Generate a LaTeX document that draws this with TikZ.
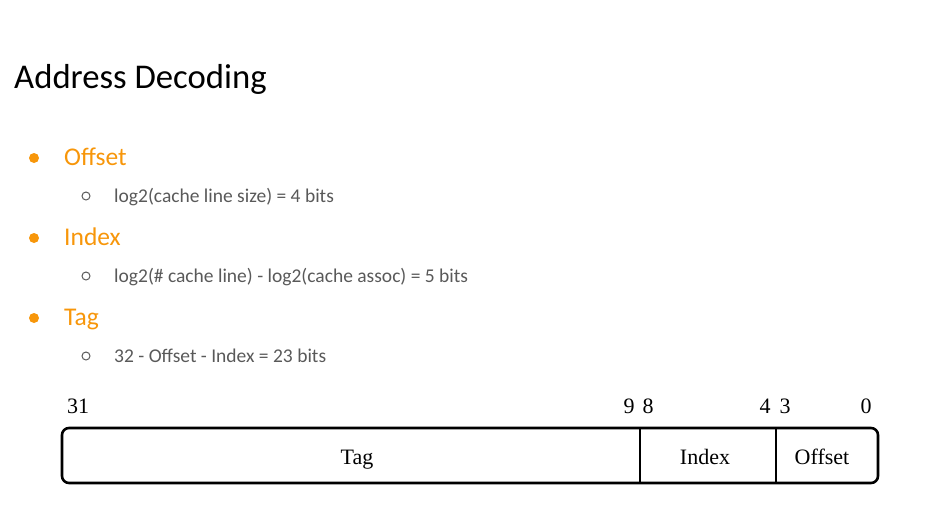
\documentclass[tikz,border=0pt]{standalone}
\usepackage{fontspec}
\setmainfont{Carlito}
\newfontfamily\regfont{Liberation Serif}
\definecolor{accent}{RGB}{247,150,10}
\definecolor{bodygray}{RGB}{89,89,89}
\begin{document}
\begin{tikzpicture}[x=1pt,y=-1pt,
  title/.style={anchor=base west,inner sep=0pt,font=\fontsize{34.7}{40}\selectfont},
  head/.style={anchor=base west,inner sep=0pt,text=accent,font=\fontsize{25.5}{30}\selectfont},
  sub/.style={anchor=base west,inner sep=0pt,text=bodygray,font=\fontsize{19.5}{23}\selectfont},
  dot/.style={circle,fill=accent,inner sep=0pt,minimum size=10pt},
  ring/.style={circle,draw=bodygray,line width=1pt,inner sep=0pt,minimum size=8pt},
  field/.style={anchor=base,inner sep=0pt,font=\regfont\fontsize{22}{26}\selectfont},
  bitno/.style={anchor=base,inner sep=0pt,font=\regfont\fontsize{22}{26}\selectfont}]
\useasboundingbox (0,0) rectangle (940,530);

\node[title] (ttl) at (14,88) {Address Decoding};

% bullet list
\node[dot] (d1) at (34,158) {};
\node[head] (h1) at (64,165) {Offset};
\node[ring] (r1) at (86,196) {};
\node[sub] (s1) at (114,202) {log2(cache line size) = 4 bits};

\node[dot] (d2) at (34,238) {};
\node[head] (h2) at (64,245) {Index};
\node[ring] (r2) at (86,276) {};
\node[sub] (s2) at (114,282) {log2(\# cache line) - log2(cache assoc) = 5 bits};

\node[dot] (d3) at (34,318) {};
\node[head] (h3) at (64,325) {Tag};
\node[ring] (r3) at (86,356) {};
\node[sub] (s3) at (114,362) {32 - Offset - Index = 23 bits};

% address register
\coordinate (tl) at (62,428);
\coordinate (br) at (878,483);
\draw[line width=2.6pt,rounded corners=7pt] (tl) rectangle (br);
\coordinate (a9t) at (640,428);
\coordinate (a9b) at (640,483);
\coordinate (a4t) at (776,428);
\coordinate (a4b) at (776,483);
\draw[line width=1.3pt] (a9t) -- (a9b);
\draw[line width=1.3pt] (a4t) -- (a4b);

\node[field] (ftag) at (357,464) {Tag};
\node[field] (fidx) at (705,464) {Index};
\node[field] (foff) at (822,464) {Offset};

\node[bitno] (b31) at (78,413) {31};
\node[bitno] (b9) at (629,413) {9};
\node[bitno] (b8) at (648,413) {8};
\node[bitno] (b4) at (765,413) {4};
\node[bitno] (b3) at (785,413) {3};
\node[bitno] (b0) at (866,413) {0};
\end{tikzpicture}
\end{document}
